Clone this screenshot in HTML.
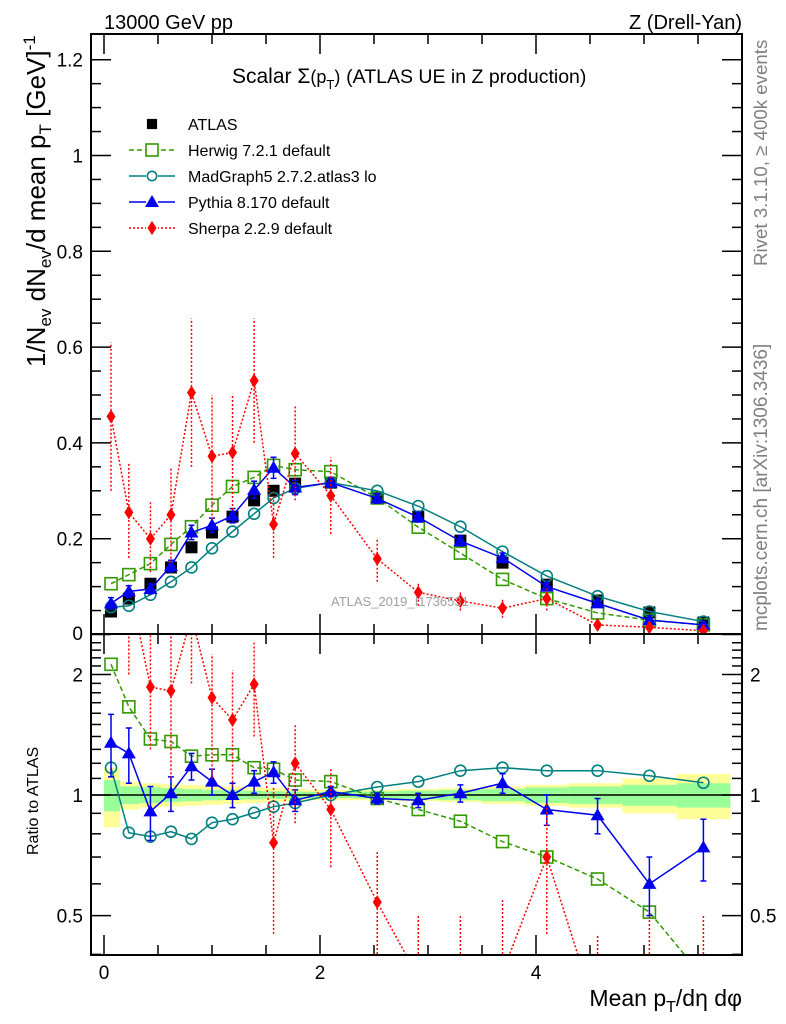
<!DOCTYPE html>
<html><head><meta charset="utf-8">
<style>
body{margin:0;background:#fff;}
svg{display:block;font-family:"Liberation Sans",Arial,sans-serif;}
</style></head>
<body>
<svg id="chart" width="786" height="1024" viewBox="0 0 786 1024">
<g id="bands"></g>
<g id="ticks"></g>
<g id="marks"></g>
<rect x="91" y="34" width="651" height="600" fill="none" stroke="#000" stroke-width="2"/>
<rect x="91" y="634" width="651" height="321" fill="none" stroke="#000" stroke-width="2"/>
<text x="104" y="29" font-size="20">13000 GeV pp</text>
<text x="742" y="29" font-size="20" text-anchor="end">Z (Drell-Yan)</text>
<text x="232" y="83" font-size="21">Scalar Σ<tspan font-size="18">(p</tspan><tspan font-size="13" dy="6">T</tspan><tspan font-size="18" dy="-6">)</tspan> <tspan font-size="19.5">(ATLAS UE in Z production)</tspan></text>
<text x="331" y="606" font-size="13" fill="#a0a0a0">ATLAS_2019_I1736531</text>
<text transform="translate(767,266) rotate(-90)" font-size="18.7" fill="#808080">Rivet 3.1.10, ≥ 400k events</text>
<text transform="translate(767,631) rotate(-90)" font-size="19" fill="#808080">mcplots.cern.ch [arXiv:1306.3436]</text>
<text transform="translate(45,367) rotate(-90)" font-size="26">1/N<tspan font-size="17" dy="6">ev</tspan><tspan dy="-6"> dN</tspan><tspan font-size="17" dy="6">ev</tspan><tspan dy="-6">/d mean p</tspan><tspan font-size="17" dy="6">T</tspan><tspan dy="-6"> [GeV]</tspan><tspan font-size="17" dy="-10">-1</tspan></text>
<text transform="translate(38,855) rotate(-90)" font-size="16">Ratio to ATLAS</text>
<text x="742" y="1006" font-size="23" text-anchor="end">Mean p<tspan font-size="16" dy="6">T</tspan><tspan dy="-6">/dη dφ</tspan></text>
<g id="legend"></g>
</svg>
<script>
const xs = [0.065,0.23,0.43,0.62,0.81,1.0,1.19,1.39,1.57,1.77,2.1,2.53,2.91,3.3,3.69,4.1,4.57,5.05,5.55];
const binEdges = [0,0.15,0.33,0.53,0.72,0.91,1.1,1.29,1.48,1.67,1.87,2.3,2.72,3.1,3.5,3.9,4.3,4.8,5.3,5.8];
const atlas = [0.048,0.075,0.106,0.14,0.182,0.213,0.246,0.28,0.30,0.315,0.317,0.284,0.246,0.196,0.15,0.104,0.071,0.046,0.025];
const herwig = [0.106,0.125,0.148,0.188,0.225,0.27,0.309,0.328,0.353,0.344,0.34,0.285,0.224,0.17,0.115,0.075,0.045,0.03,0.02];
const madgraph = [0.057,0.06,0.083,0.11,0.14,0.18,0.215,0.252,0.285,0.305,0.317,0.30,0.268,0.225,0.173,0.122,0.08,0.048,0.027];
const pythia = [0.065,0.09,0.095,0.143,0.213,0.228,0.248,0.302,0.348,0.307,0.317,0.284,0.245,0.195,0.16,0.1,0.065,0.03,0.02];
const pythiaErr = [0.012,0.012,0.01,0.012,0.015,0.015,0.015,0.018,0.022,0.015,0.01,0.01,0.01,0.01,0.01,0.008,0.006,0.005,0.004];
const sherpa = [0.455,0.255,0.2,0.25,0.505,0.372,0.38,0.53,0.23,0.378,0.29,0.158,0.088,0.07,0.055,0.075,0.02,0.015,0.008];
const sherpaHi = [0.61,0.36,0.28,0.35,0.66,0.5,0.5,0.66,0.3,0.48,0.37,0.2,0.11,0.09,0.075,0.1,0.03,0.022,0.012];
const sherpaLo = [0.3,0.16,0.13,0.15,0.35,0.24,0.26,0.4,0.16,0.28,0.21,0.11,0.06,0.05,0.035,0.05,0.01,0.008,0.004];
const rHerwig = [2.12,1.66,1.38,1.36,1.25,1.26,1.26,1.17,1.16,1.09,1.08,0.98,0.92,0.86,0.765,0.70,0.617,0.51,0.35];
const rMadgraph = [1.17,0.805,0.787,0.81,0.777,0.853,0.87,0.903,0.935,0.955,1.0,1.047,1.08,1.15,1.17,1.15,1.15,1.117,1.073];
const rPythia = [1.35,1.27,0.91,1.01,1.18,1.08,1.0,1.08,1.14,0.97,1.02,0.98,0.97,1.01,1.07,0.92,0.89,0.60,0.74];
const rPythiaErr = [0.24,0.2,0.14,0.1,0.09,0.08,0.07,0.07,0.07,0.06,0.03,0.03,0.04,0.05,0.06,0.08,0.09,0.1,0.13];
const rSherpa = [9.5,3.4,1.86,1.82,2.8,1.75,1.54,1.89,0.76,1.2,0.92,0.54,0.35,0.33,0.36,0.70,0.28,0.33,0.32];
const rSherpaHi = [12,5,2.8,2.6,3.6,2.25,2.05,2.4,1.05,1.5,1.17,0.72,0.5,0.5,0.55,0.95,0.45,0.5,0.5];
const rSherpaLo = [6,2,1.3,1.1,1.9,1.1,1.05,1.4,0.45,0.85,0.66,0.3,0.15,0.15,0.15,0.45,0.1,0.1,0.1];
const bandYellow = [0.17,0.08,0.07,0.065,0.06,0.055,0.05,0.045,0.04,0.035,0.03,0.03,0.035,0.04,0.05,0.06,0.07,0.1,0.13];
const bandGreen = [0.09,0.05,0.045,0.04,0.035,0.03,0.028,0.025,0.022,0.02,0.018,0.02,0.025,0.03,0.035,0.045,0.05,0.06,0.07];
const mainTicks = [0.2,0.4,0.6,0.8,1,1.2];
const ratioTicks = [0.5,1,2];
const xTicks = [0,2,4];

const NS="http://www.w3.org/2000/svg";
const X = v => 104 + 108*v;
const Y = v => 634.5 - 479*v;
const R = r => 795 - 400.5*Math.log10(r);
function mk(tag, attrs, parent){const e=document.createElementNS(NS,tag);for(const k in attrs)e.setAttribute(k,attrs[k]);parent.appendChild(e);return e;}
const bands=document.getElementById('bands'), ticks=document.getElementById('ticks'), marks=document.getElementById('marks'), legend=document.getElementById('legend');
const clipR = v => Math.max(635, Math.min(954, v));

for(let i=0;i<xs.length;i++){
  const x0=X(binEdges[i]), x1=X(binEdges[i+1]);
  let e=mk('rect',{x:x0,y:R(1+bandYellow[i]),width:x1-x0,height:R(1-bandYellow[i])-R(1+bandYellow[i]),fill:'#ffff99'},bands);
  
  
  e=mk('rect',{x:x0,y:R(1+bandGreen[i]),width:x1-x0,height:R(1-bandGreen[i])-R(1+bandGreen[i]),fill:'#99ff99'},bands);
  
  
}
let ln=mk('line',{x1:91,x2:742,y1:R(1),y2:R(1),stroke:'#000','stroke-width':1.5},bands);



for(let v=0;v<=1.25;v+=0.05){
  const major=Math.abs(v/0.2-Math.round(v/0.2))<1e-6;
  const L=major?20:10;
  mk('line',{x1:91,x2:91+L,y1:Y(v),y2:Y(v),stroke:'#000','stroke-width':1.5},ticks);
  mk('line',{x1:742,x2:742-L,y1:Y(v),y2:Y(v),stroke:'#000','stroke-width':1.5},ticks);
}
mainTicks.forEach(v=>{const t=mk('text',{x:83,y:Y(v)+7,'font-size':19,'text-anchor':'end'},ticks);t.textContent=String(v);

});
{const t=mk('text',{x:83,y:640,'font-size':19,'text-anchor':'end'},ticks);t.textContent='0';}
for(let r=0.4;r<=2.5;r+=0.1){
  const major=ratioTicks.some(m=>Math.abs(m-r)<1e-6);
  const L=major?20:10;
  mk('line',{x1:91,x2:91+L,y1:R(r),y2:R(r),stroke:'#000','stroke-width':1.5},ticks);
  mk('line',{x1:742,x2:742-L,y1:R(r),y2:R(r),stroke:'#000','stroke-width':1.5},ticks);
}
ratioTicks.forEach(v=>{
  let t=mk('text',{x:83,y:R(v)+7,'font-size':19,'text-anchor':'end'},ticks);t.textContent=String(v);
  
  
  t=mk('text',{x:750,y:R(v)+7,'font-size':19},ticks);t.textContent=String(v);
  
  
});
for(let v=0;v<=5.9;v+=0.5){
  const major=Math.abs(v-Math.round(v/2)*2)<1e-6;
  const L=major?20:10;
  [[34,1],[634,-1],[634,1],[955,-1]].forEach(([y,d])=>mk('line',{x1:X(v),x2:X(v),y1:y,y2:y+d*L,stroke:'#000','stroke-width':1.5},ticks));
}
xTicks.forEach(v=>{const t=mk('text',{x:X(v),y:979,'font-size':19,'text-anchor':'middle'},ticks);t.textContent=String(v);

});

function marker(type,x,y,color,g,s){
  s=s||1;
  if(type==='sq') return mk('rect',{x:x-6*s,y:y-6*s,width:12*s,height:12*s,fill:'#000'},g);
  if(type==='osq') return mk('rect',{x:x-6*s,y:y-6*s,width:12*s,height:12*s,fill:'none',stroke:color,'stroke-width':1.6},g);
  if(type==='circ') return mk('circle',{cx:x,cy:y,r:5.5*s,fill:'none',stroke:color,'stroke-width':1.6},g);
  if(type==='tri') return mk('polygon',{points:`${x},${y-7*s} ${x-7*s},${y+5*s} ${x+7*s},${y+5*s}`,fill:color},g);
  if(type==='dia') return mk('polygon',{points:`${x},${y-7*s} ${x+4.5*s},${y} ${x},${y+7*s} ${x-4.5*s},${y}`,fill:color},g);
}
function series(name,vals,fy,color,type,dash,errLo,errHi,clip){
  const g=mk('g',{},marks);
  
  
  if(errLo){
    xs.forEach((x,i)=>{let y1=fy(errLo[i]),y2=fy(errHi[i]);if(clip){y1=clipR(y1);y2=clipR(y2);}
      if(Math.abs(y1-y2)<1)return;
      mk('line',{x1:X(x),x2:X(x),y1:y1,y2:y2,stroke:color,'stroke-width':1.5,'stroke-dasharray':dash},g);
      if(!dash){mk('line',{x1:X(x)-3,x2:X(x)+3,y1:y1,y2:y1,stroke:color,'stroke-width':1.5},g);mk('line',{x1:X(x)-3,x2:X(x)+3,y1:y2,y2:y2,stroke:color,'stroke-width':1.5},g);}
    });
  }
  if(type!=='sq'){
    mk('polyline',{points:xs.map((x,i)=>X(x)+','+fy(vals[i])).join(' '),fill:'none',stroke:color,'stroke-width':1.5,'stroke-dasharray':dash},g);
  }
  xs.forEach((x,i)=>{const y=fy(vals[i]);if(clip&&(y<634||y>955))return;const m=marker(type,X(x),y,color,g);
    
    });
  g.setAttribute('clip-path',clip?'url(#rclip)':'url(#mclip)');
}
const defs=mk('defs',{},document.getElementById('chart'));
const c1=mk('clipPath',{id:'mclip'},defs);mk('rect',{x:92,y:35,width:649,height:599},c1);
const c2=mk('clipPath',{id:'rclip'},defs);mk('rect',{x:92,y:635,width:649,height:319},c2);

series('atlas-data',atlas,Y,'#000','sq','',null,null,false);
series('herwig-line',herwig,Y,'#339900','osq','5,3',null,null,false);
series('madgraph-line',madgraph,Y,'#008080','circ','',null,null,false);
series('pythia-line',pythia,Y,'#0000ee','tri','',pythia.map((v,i)=>v-pythiaErr[i]),pythia.map((v,i)=>v+pythiaErr[i]),false);
series('sherpa-line',sherpa,Y,'#ff0000','dia','2,2',sherpaLo,sherpaHi,false);

series('herwig-ratio',rHerwig,R,'#339900','osq','5,3',null,null,true);
series('madgraph-ratio',rMadgraph,R,'#008080','circ','',null,null,true);
series('pythia-ratio',rPythia,R,'#0000ee','tri','',rPythia.map((v,i)=>v-rPythiaErr[i]),rPythia.map((v,i)=>v+rPythiaErr[i]),true);
series('sherpa-ratio',rSherpa,R,'#ff0000','dia','2,2',rSherpaLo,rSherpaHi,true);

const leg=[['ATLAS','sq','#000',null],['Herwig 7.2.1 default','osq','#339900','5,3'],['MadGraph5 2.7.2.atlas3 lo','circ','#008080',''],['Pythia 8.170 default','tri','#0000ee',''],['Sherpa 2.2.9 default','dia','#ff0000','2,2']];
leg.forEach((l,i)=>{
  const y=124+i*26;
  const g=mk('g',{},legend);
  
  
  if(l[3]!==null) mk('line',{x1:129,x2:175,y1:y,y2:y,stroke:l[2],'stroke-width':1.5,'stroke-dasharray':l[3]},g);
  if(l[3]!==null && l[1]!=='sq') mk('rect',{x:146,y:y-6,width:12,height:12,fill:'#fff'},g);
  marker(l[1],152,y,l[2],g,l[1]==='sq'?0.85:(l[1]==='circ'?0.85:1));
  const t=mk('text',{x:188,y:y+6,'font-size':16},g);t.textContent=l[0];
});
</script>
</body></html>
